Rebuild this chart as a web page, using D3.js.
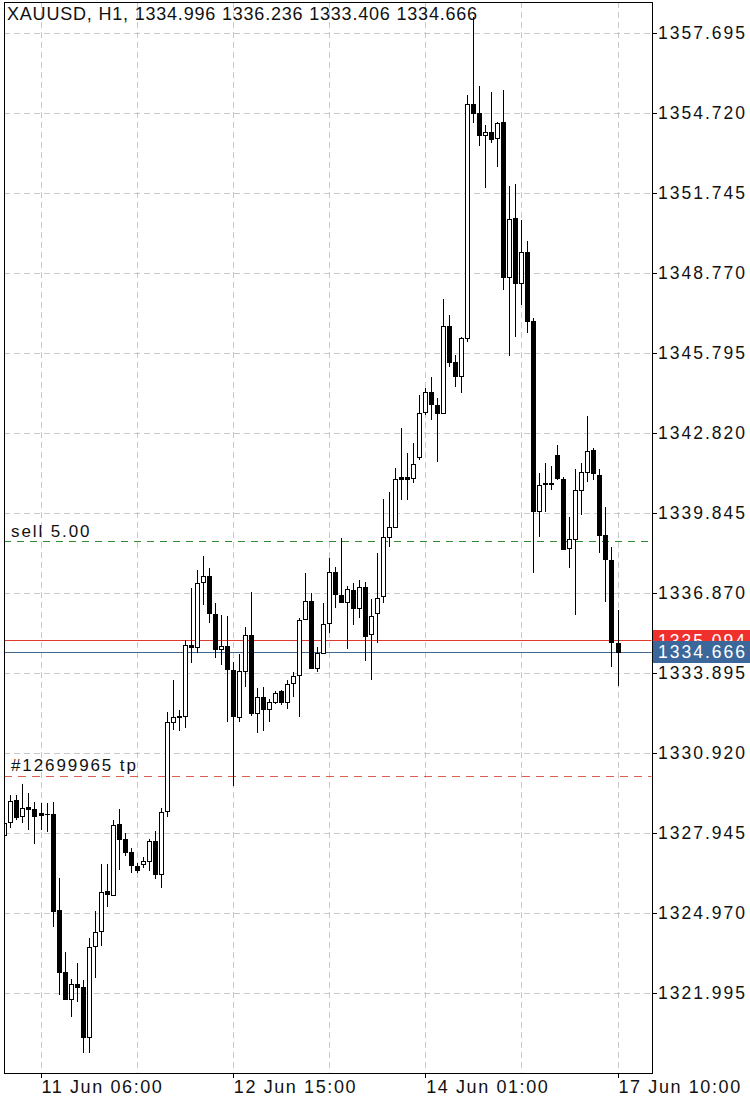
<!DOCTYPE html>
<html><head><meta charset="utf-8">
<script src="https://cdn.jsdelivr.net/npm/d3@7"></script>
<style>html,body{margin:0;padding:0;background:#fff;} svg{display:block;font-family:"Liberation Sans",Arial,Helvetica,sans-serif;}</style>
</head><body><svg id="c" width="750" height="1102"></svg>
<script>
const opens=[1327.87,1328.36,1329.17,1328.58,1328.91,1328.84,1328.69,1328.66,1328.65,1325.08,
1322.78,1321.77,1322.33,1322.22,1320.36,1323.74,1324.30,1325.79,1325.64,1328.28,
1327.72,1327.24,1326.72,1326.79,1326.90,1327.65,1326.42,1328.76,1332.07,1332.30,
1332.30,1334.94,1334.86,1337.28,1337.50,1336.09,1334.79,1334.90,1334.01,1332.26,
1333.97,1335.31,1332.41,1333.00,1332.56,1332.82,1333.23,1332.82,1333.52,1333.82,
1335.90,1336.57,1334.08,1334.64,1335.75,1337.65,1336.80,1336.54,1336.98,1336.31,
1337.09,1335.35,1336.13,1336.76,1338.95,1339.32,1341.18,1341.18,1341.15,1341.93,
1343.60,1344.34,1343.86,1343.56,1346.80,1345.46,1344.94,1346.35,1355.05,1354.72,
1353.90,1354.01,1353.79,1354.39,1348.62,1350.82,1348.40,1349.55,1346.99,1339.92,
1340.94,1340.96,1342.00,1341.11,1338.54,1338.88,1340.70,1341.37,1342.19,1341.26,
1339.03,1338.10,1334.996];
const highs=[1328.43,1329.36,1329.36,1329.77,1329.43,1329.10,1329.06,1329.06,1329.10,1326.27,
1323.52,1322.52,1323.11,1322.48,1324.04,1325.05,1326.79,1326.79,1328.43,1328.84,
1327.95,1327.39,1326.83,1327.05,1327.72,1328.02,1328.88,1332.44,1333.64,1332.52,
1335.12,1337.06,1337.73,1338.25,1337.80,1336.50,1336.05,1336.02,1334.30,1334.60,
1335.61,1336.91,1333.34,1333.38,1332.93,1333.23,1333.26,1333.64,1333.93,1335.94,
1337.61,1336.87,1334.86,1336.50,1338.17,1337.84,1338.92,1337.13,1337.24,1337.35,
1337.28,1336.65,1338.36,1340.37,1340.63,1341.52,1343.01,1342.08,1342.45,1344.23,
1344.49,1344.90,1344.12,1347.80,1347.21,1345.72,1346.39,1355.39,1358.29,1355.72,
1354.27,1355.50,1354.39,1355.58,1352.01,1352.08,1350.74,1349.96,1347.10,1341.33,
1341.70,1341.59,1342.37,1341.18,1339.70,1341.48,1341.70,1343.45,1342.26,1341.48,
1340.07,1338.58,1336.236];
const lows=[1327.76,1328.13,1328.43,1328.32,1328.06,1327.54,1328.06,1327.98,1324.45,1321.92,
1321.74,1321.10,1321.66,1319.76,1319.76,1322.55,1323.74,1325.19,1325.64,1326.57,
1327.09,1326.46,1326.46,1326.64,1326.53,1326.23,1325.90,1328.54,1331.78,1331.74,
1331.85,1334.27,1334.64,1336.42,1335.75,1334.45,1334.19,1332.07,1329.69,1332.07,
1333.38,1332.30,1331.66,1331.74,1332.07,1332.74,1332.71,1332.56,1333.00,1332.26,
1335.87,1334.04,1333.93,1334.64,1335.38,1336.31,1336.50,1334.79,1335.68,1335.94,
1334.34,1333.64,1335.01,1336.50,1338.58,1339.29,1340.33,1340.33,1340.96,1341.82,
1343.49,1343.30,1341.74,1343.56,1345.27,1344.53,1344.31,1346.20,1354.35,1353.49,
1351.93,1353.60,1352.71,1348.14,1345.68,1346.39,1347.58,1346.54,1337.61,1338.95,
1339.88,1340.70,1341.07,1338.47,1337.80,1336.05,1339.77,1341.00,1341.07,1338.36,
1336.54,1334.12,1333.406];
const closes=[1328.32,1329.14,1328.54,1328.88,1328.84,1328.58,1328.62,1328.64,1325.05,1322.78,
1321.77,1322.33,1322.22,1320.36,1323.71,1324.26,1325.75,1325.68,1328.24,1327.72,
1327.24,1326.76,1326.57,1326.90,1327.65,1326.42,1328.73,1332.07,1332.26,1332.26,
1334.94,1334.86,1337.24,1337.50,1336.13,1334.79,1334.90,1334.04,1332.30,1333.97,
1335.31,1332.41,1333.00,1332.56,1332.82,1333.15,1332.82,1333.49,1333.78,1335.87,
1336.57,1334.08,1334.64,1335.72,1337.65,1336.83,1336.54,1337.02,1336.31,1337.09,
1335.27,1336.02,1336.68,1338.95,1339.32,1341.11,1341.11,1341.11,1341.67,1343.56,
1344.34,1343.90,1343.56,1346.80,1345.46,1344.94,1346.35,1355.05,1354.72,1353.90,
1354.01,1353.75,1354.35,1348.62,1350.78,1348.40,1349.55,1346.99,1339.92,1340.89,
1340.96,1340.94,1341.15,1338.51,1338.88,1340.70,1341.37,1342.15,1341.33,1339.03,
1338.13,1335.05,1334.666];

const priceTicks=[1357.695,1354.720,1351.745,1348.770,1345.795,1342.820,1339.845,1336.870,1333.895,1330.920,1327.945,1324.970,1321.995];
const timeTickIndex=[6,38,70,102];
const timeTickLabels=["11 Jun 06:00","12 Jun 15:00","14 Jun 01:00","17 Jun 10:00"];
const gridIndex=[6,22,38,54,70,86,102];
const titleText="XAUUSD, H1, 1334.996 1336.236 1333.406 1334.666";
const sellLevel=1338.80, sellLabel="sell 5.00";
const tpLevel=1330.06, tpLabel="#12699965 tp";
const orderLevel=1335.094, bidLevel=1334.666;

const W=750,H=1102;
const L=4,R=652,T=2,B=1073;
const svg=d3.select("#c");
const x=d3.scaleLinear().domain([6,102]).range([40.5,617.5]);
const y=d3.scaleLinear().domain([1321.995,1357.695]).range([993,33]);
const px=v=>Math.round(v)+0.5;

svg.append("rect").attr("width",W).attr("height",H).attr("fill","#fff");
svg.append("defs").append("clipPath").attr("id","clip").append("rect")
  .attr("x",L+0.5).attr("y",T+0.5).attr("width",R-L-1).attr("height",B-T-1);

const grid=svg.append("g").attr("clip-path","url(#clip)");
grid.selectAll("line.h").data(priceTicks).join("line")
  .attr("x1",L).attr("x2",R).attr("y1",d=>px(y(d))).attr("y2",d=>px(y(d)))
  .attr("stroke","#c8c8c8").attr("stroke-dasharray","6,4");
grid.selectAll("line.v").data(gridIndex).join("line").attr("class","v")
  .attr("y1",T).attr("y2",B).attr("x1",d=>px(x(d))).attr("x2",d=>px(x(d)))
  .attr("stroke","#c8c8c8").attr("stroke-dasharray","6,4");

// level lines
const lv=svg.append("g").attr("clip-path","url(#clip)");
lv.append("line").attr("x1",L).attr("x2",R).attr("y1",px(y(sellLevel))).attr("y2",px(y(sellLevel)))
  .attr("stroke","#2e8b2e").attr("stroke-dasharray","7,6");
lv.append("line").attr("x1",L).attr("x2",R).attr("y1",px(y(tpLevel))).attr("y2",px(y(tpLevel)))
  .attr("stroke","#d9604a").attr("stroke-dasharray","8,6");
lv.append("line").attr("x1",L).attr("x2",R).attr("y1",px(y(orderLevel))-1).attr("y2",px(y(orderLevel))-1)
  .attr("stroke","#e03a30");
lv.append("line").attr("x1",L).attr("x2",R).attr("y1",px(y(bidLevel))).attr("y2",px(y(bidLevel)))
  .attr("stroke","#44698f");

// candles
const data=opens.map((o,i)=>({i,o,h:highs[i],l:lows[i],c:closes[i]}));
const cg=svg.append("g").attr("clip-path","url(#clip)");
const cs=cg.selectAll("g").data(data).join("g");
cs.append("line")
  .attr("x1",d=>px(x(d.i))).attr("x2",d=>px(x(d.i)))
  .attr("y1",d=>Math.round(y(d.h))).attr("y2",d=>Math.round(y(d.l)))
  .attr("stroke","#000");
cs.append("rect")
  .attr("x",d=>Math.round(x(d.i))-1.5).attr("width",4)
  .attr("y",d=>Math.round(y(Math.max(d.o,d.c)))+0.5)
  .attr("height",d=>Math.max(0.01,Math.round(y(Math.min(d.o,d.c)))-Math.round(y(Math.max(d.o,d.c)))))
  .attr("fill",d=>d.c>=d.o?"#fff":"#000").attr("stroke","#000");

function st(sel,o){for(const k in o) sel.style(k,o[k]); return sel;}
const lblFont={"font-size":"17px","letter-spacing":"1.9px"};
const axFont={"font-size":"17.5px","letter-spacing":"2px"};
st(svg.append("text").attr("x",11).attr("y",px(y(sellLevel))-5).text(sellLabel).attr("fill","#111"),lblFont);
st(svg.append("text").attr("x",11).attr("y",px(y(tpLevel))-6).text(tpLabel).attr("fill","#111"),lblFont);

// frame
svg.append("rect").attr("x",L+0.5).attr("y",T+0.5).attr("width",R-L).attr("height",B-T)
  .attr("fill","none").attr("stroke","#000");

// right axis
const ya=svg.append("g");
ya.selectAll("line").data(priceTicks).join("line")
  .attr("x1",R+0.5).attr("x2",R+5).attr("y1",d=>px(y(d))).attr("y2",d=>px(y(d))).attr("stroke","#000");
st(ya.selectAll("text").data(priceTicks).join("text")
  .attr("x",R+6).attr("y",d=>y(d)).attr("dy","0.36em")
  .text(d=>d3.format(".3f")(d)).attr("fill","#111"),axFont);

// current price boxes
function priceBox(v,fill){
  const yy=Math.round(y(v));
  svg.append("rect").attr("x",R+1).attr("y",yy-11).attr("width",W-R-1).attr("height",22).attr("fill",fill);
  st(svg.append("text").attr("x",R+6).attr("y",yy).attr("dy","0.36em").text(d3.format(".3f")(v)).attr("fill","#fff"),axFont);
}
priceBox(orderLevel,"#f0302c");
priceBox(bidLevel,"#3b679a");

// bottom axis
const xa=svg.append("g");
xa.selectAll("line").data(timeTickIndex).join("line")
  .attr("x1",d=>px(x(d))).attr("x2",d=>px(x(d))).attr("y1",B).attr("y2",B+5).attr("stroke","#000");
st(xa.selectAll("text").data(timeTickIndex).join("text")
  .attr("x",d=>x(d)+1).attr("y",B+20).text((d,k)=>timeTickLabels[k]).attr("fill","#111"),{"font-size":"18px","letter-spacing":"1.6px"});

// title
st(svg.append("text").attr("x",7).attr("y",20).text(titleText).attr("fill","#111"),{"font-size":"18px","letter-spacing":"0.8px"});
</script></body></html>
